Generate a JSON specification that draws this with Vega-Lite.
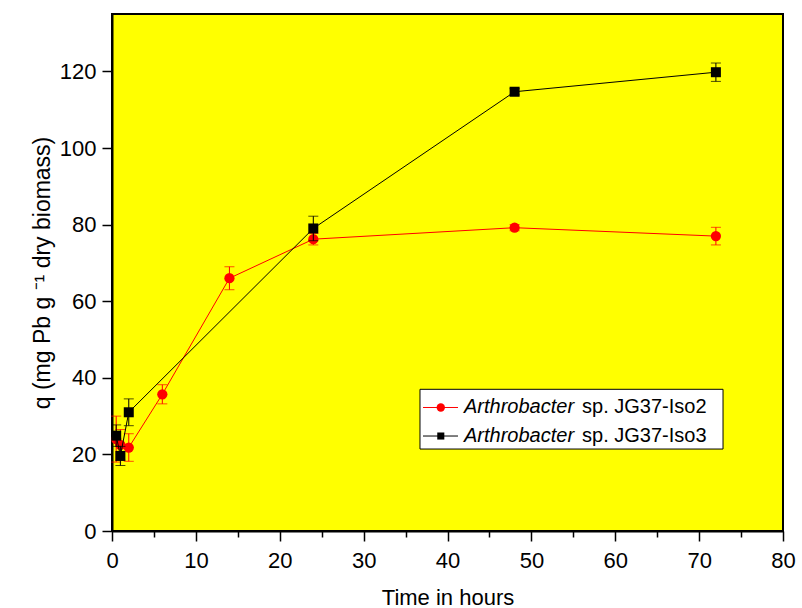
{
  "$schema": "https://vega.github.io/schema/vega-lite/v6.json",
  "width": 671,
  "height": 517,
  "autosize": {"type": "none"},
  "padding": {"left": 112, "top": 14, "right": 19, "bottom": 77},
  "background": "white",
  "config": {
    "font": "Liberation Sans",
    "view": {"fill": "#FFFF00", "stroke": "black", "strokeWidth": 2},
    "axis": {
      "domainColor": "black",
      "domainWidth": 2,
      "tickColor": "black",
      "tickWidth": 1.5,
      "labelColor": "black",
      "labelFont": "Liberation Sans",
      "labelFontSize": 22,
      "titleFont": "Liberation Sans",
      "titleFontSize": 22,
      "titleFontWeight": "normal",
      "titleColor": "black",
      "grid": false
    }
  },
  "data": {
    "values": [
      {"series": "Iso2", "t": 0.5, "q": 24.0, "err": 6.0},
      {"series": "Iso2", "t": 1, "q": 22.5, "err": 4.0},
      {"series": "Iso2", "t": 2, "q": 21.8, "err": 3.6},
      {"series": "Iso2", "t": 6, "q": 35.7, "err": 2.5},
      {"series": "Iso2", "t": 14, "q": 66.0, "err": 3.0},
      {"series": "Iso2", "t": 24, "q": 76.2, "err": 1.5},
      {"series": "Iso2", "t": 48, "q": 79.2, "err": 0.8},
      {"series": "Iso2", "t": 72, "q": 77.0, "err": 2.3},
      {"series": "Iso3", "t": 0.5, "q": 24.9, "err": 2.8},
      {"series": "Iso3", "t": 1, "q": 19.6, "err": 2.5},
      {"series": "Iso3", "t": 2, "q": 31.0, "err": 3.5},
      {"series": "Iso3", "t": 24, "q": 79.0, "err": 3.2},
      {"series": "Iso3", "t": 48, "q": 114.7, "err": 0.8},
      {"series": "Iso3", "t": 72, "q": 119.8, "err": 2.4}
    ]
  },
  "layer": [
    {
      "transform": [{"filter": "datum.series === 'Iso2'"}],
      "encoding": {
        "x": {
          "field": "t",
          "type": "quantitative",
          "title": "Time in hours",
          "scale": {"domain": [0, 80], "nice": false, "zero": true},
          "axis": {
            "titleX": 335.5,
            "titleY": 66,
            "titleBaseline": "middle",
            "values": [0, 5, 10, 15, 20, 25, 30, 35, 40, 45, 50, 55, 60, 65, 70, 75, 80],
            "labelExpr": "datum.value % 10 === 0 ? datum.label : ''",
            "tickSize": {"condition": {"test": "datum.value % 10 === 0", "value": 10}, "value": 6},
            "labelPadding": 9,
            "labelFlush": false
          }
        },
        "y": {
          "field": "q",
          "type": "quantitative",
          "title": "q (mg Pb g \u207B\u00B9 dry biomass)",
          "scale": {"domain": [0, 135], "nice": false},
          "axis": {
            "titleAngle": -90,
            "titleFontSize": 23,
            "titleX": -70,
            "titleY": 258.5,
            "titleAlign": "center",
            "titleBaseline": "middle",
            "values": [0, 10, 20, 30, 40, 50, 60, 70, 80, 90, 100, 110, 120, 130],
            "labelExpr": "datum.value % 20 === 0 ? datum.label : ''",
            "tickSize": {"condition": {"test": "datum.value % 20 === 0", "value": 10}, "value": 6},
            "labelPadding": 6,
            "labelFlush": false
          }
        }
      },
      "layer": [
        {"mark": {"type": "line", "color": "#FF0000", "strokeWidth": 1}, "encoding": {"order": {"field": "t"}}},
        {
          "mark": {"type": "errorbar", "color": "#FF0000", "ticks": {"size": 10, "thickness": 1, "color": "#FF0000"}, "rule": {"strokeWidth": 1}},
          "encoding": {"yError": {"field": "err"}}
        },
        {"mark": {"type": "point", "shape": "circle", "filled": true, "opacity": 1, "color": "#FF0000", "size": 105}}
      ]
    },
    {
      "transform": [{"filter": "datum.series === 'Iso3'"}],
      "encoding": {
        "x": {"field": "t", "type": "quantitative", "title": "Time in hours"},
        "y": {"field": "q", "type": "quantitative", "title": "q (mg Pb g \u207B\u00B9 dry biomass)"}
      },
      "layer": [
        {"mark": {"type": "line", "color": "#000000", "strokeWidth": 1}, "encoding": {"order": {"field": "t"}}},
        {
          "mark": {"type": "errorbar", "color": "#000000", "ticks": {"size": 10, "thickness": 1, "color": "#000000"}, "rule": {"strokeWidth": 1}},
          "encoding": {"yError": {"field": "err"}}
        },
        {"mark": {"type": "point", "shape": "square", "filled": true, "opacity": 1, "color": "#000000", "size": 100}}
      ]
    },
    {
      "data": {"values": [{"entry": "box"}]},
      "mark": {"type": "rect", "fill": "white", "stroke": "black", "strokeWidth": 1},
      "encoding": {"x": {"datum": 36.72}, "x2": {"datum": 72.85}, "y": {"datum": 37.0}, "y2": {"datum": 21.4}}
    },
    {
      "data": {"values": [{"series": "Iso2"}]},
      "layer": [
        {
          "mark": {"type": "rule", "color": "#FF0000", "strokeWidth": 1},
          "encoding": {"x": {"datum": 37.08}, "x2": {"datum": 41.25}, "y": {"datum": 32.25}}
        },
        {
          "mark": {"type": "point", "shape": "circle", "filled": true, "opacity": 1, "color": "#FF0000", "size": 70},
          "encoding": {"x": {"datum": 39.2}, "y": {"datum": 32.25}}
        },
        {
          "mark": {"type": "text", "text": "Arthrobacter", "fontStyle": "italic", "fontSize": 20, "align": "left", "baseline": "middle", "color": "black"},
          "encoding": {"x": {"datum": 41.97}, "y": {"datum": 32.25}}
        },
        {
          "mark": {"type": "text", "text": "sp. JG37-Iso2", "fontSize": 20, "align": "left", "baseline": "middle", "color": "black"},
          "encoding": {"x": {"datum": 56.04}, "y": {"datum": 32.25}}
        }
      ]
    },
    {
      "data": {"values": [{"series": "Iso3"}]},
      "layer": [
        {
          "mark": {"type": "rule", "color": "#000000", "strokeWidth": 1},
          "encoding": {"x": {"datum": 37.08}, "x2": {"datum": 41.25}, "y": {"datum": 24.8}}
        },
        {
          "mark": {"type": "point", "shape": "square", "filled": true, "opacity": 1, "color": "#000000", "size": 50},
          "encoding": {"x": {"datum": 39.2}, "y": {"datum": 24.8}}
        },
        {
          "mark": {"type": "text", "text": "Arthrobacter", "fontStyle": "italic", "fontSize": 20, "align": "left", "baseline": "middle", "color": "black"},
          "encoding": {"x": {"datum": 41.97}, "y": {"datum": 24.8}}
        },
        {
          "mark": {"type": "text", "text": "sp. JG37-Iso3", "fontSize": 20, "align": "left", "baseline": "middle", "color": "black"},
          "encoding": {"x": {"datum": 56.04}, "y": {"datum": 24.8}}
        }
      ]
    }
  ]
}
